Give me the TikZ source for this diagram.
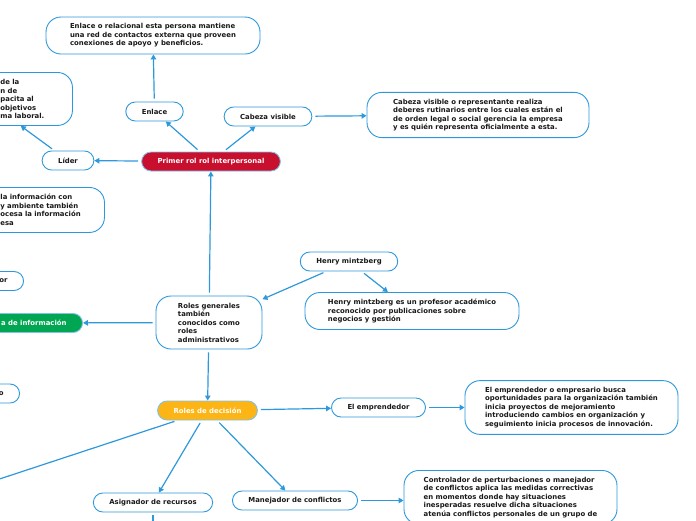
\documentclass[tikz,border=0pt]{standalone}
\usepackage{fontspec}
\setmainfont{DejaVu Sans}
\usetikzlibrary{arrows.meta}
\definecolor{LinkBlue}{RGB}{45,152,220}
\definecolor{Crimson}{RGB}{200,16,46}
\definecolor{Amber}{RGB}{252,181,20}
\definecolor{Forest}{RGB}{0,166,82}
\definecolor{InkDark}{RGB}{25,25,25}

\begin{document}
\begin{tikzpicture}[x=1pt, y=-1pt,
    every node/.style={font=\fontsize{6.9}{8.5}\selectfont\bfseries, text=InkDark},
    topic/.style={draw=LinkBlue, line width=0.9pt, rounded corners=9.5pt, fill=white, inner xsep=16pt, inner ysep=0pt, minimum height=19pt},
    note/.style={draw=LinkBlue, line width=0.9pt, rounded corners=15pt, fill=white, align=left, inner ysep=6.5pt},
    link/.style={draw=LinkBlue, line width=1.2pt, -{Triangle[length=5pt, width=5.5pt]}, shorten <=3pt}]
    \useasboundingbox (0,0) rectangle (696,520);
    \clip (0,0) rectangle (696,520);

    % primer rol interpersonal
    \node[note, minimum width=214pt, minimum height=37pt] (enlacetxt) at (153,35.5) {Enlace o relacional esta persona mantiene\\una red de contactos externa que proveen\\conexiones de apoyo y beneficios.};
    \node[topic] (enlace) at (154.5,111.5) {Enlace};
    \node[topic] (cabeza) at (268,116.5) {Cabeza visible};
    \node[note, minimum width=222pt, minimum height=44pt] (cabezatxt) at (478,115) {Cabeza visible o representante realiza\\deberes rutinarios entre los cuales están el\\de orden legal o social gerencia la empresa\\y es quién representa oficialmente a esta.};
    \node[topic] (lider) at (68,160.5) {Líder};
    \node[topic, fill=Crimson, draw=LinkBlue!60, text=white] (primer) at (211,161.5) {Primer rol rol interpersonal};
    \node[note, text width=52pt, inner xsep=20pt, anchor=north west, minimum height=53pt] (lidertxt) at (-20,72) {de la\\n de\\pacita al\\objetivos\\ma laboral.};

    % roles informativos (cortados)
    \node[note, text width=84pt, inner xsep=20pt, anchor=north west, minimum height=45pt] (infotxt) at (-20,187) {la información con\\y ambiente también\\ocesa la información\\esa};
    \node[topic, anchor=east] (infoa) at (24,281) {or};
    \node[topic, anchor=east, fill=Forest, draw=LinkBlue!60, text=white] (info) at (83,323) {a de información};
    \node[topic, anchor=east] (infob) at (20,393.5) {o};

    % centro
    \node[note, minimum width=106pt, minimum height=53pt] (roles) at (209,322.5) {Roles generales\\también\\conocidos como\\roles\\administrativos};
    \node[topic] (henry) at (349,261.5) {Henry mintzberg};
    \node[note, minimum width=214pt, minimum height=36pt] (henrytxt) at (412,311) {Henry mintzberg es un profesor académico\\reconocido por publicaciones sobre\\negocios y gestión};

    % roles de decision
    \node[topic, fill=Amber, draw=LinkBlue!60, text=white] (decision) at (207.5,410.5) {Roles de decisión};
    \node[topic] (empr) at (378.5,407.5) {El emprendedor};
    \node[note, minimum width=213pt, minimum height=53pt] (emprtxt) at (571.5,407.5) {El emprendedor o empresario busca\\oportunidades para la organización también\\inicia proyectos de mejoramiento\\introduciendo cambios en organización y\\seguimiento inicia procesos de innovación.};
    \node[topic] (asignador) at (153,502.5) {Asignador de recursos};
    \node[topic] (manejador) at (295,500.5) {Manejador de conflictos};
    \node[note, minimum width=213pt, anchor=north] (controltxt) at (510.5,470) {Controlador de perturbaciones o manejador\\de conflictos aplica las medidas correctivas\\en momentos donde hay situaciones\\inesperadas resuelve dicha situaciones\\atenúa conflictos personales de un grupo de};
    \coordinate (offleft) at (-40,492);
    \coordinate (offbelow) at (153,545);

    \draw[link] (enlace) -- (enlacetxt);
    \draw[link] (primer) -- (enlace);
    \draw[link] (primer) -- (cabeza);
    \draw[link] (cabeza) -- (cabezatxt);
    \draw[link] (primer) -- (lider);
    \draw[link] (lider) -- (lidertxt.258);
    \draw[link] (roles) -- (primer);
    \draw[link] (henry) -- (roles);
    \draw[link] (henry) -- (henrytxt);
    \draw[link] (roles) -- (info);
    \draw[link] (roles) -- (decision);
    \draw[link] (decision) -- (empr);
    \draw[link] (empr) -- (emprtxt);
    \draw[link] (decision) -- (offleft);
    \draw[link] (decision) -- (asignador);
    \draw[link] (decision) -- (manejador);
    \draw[link] (manejador) -- (manejador -| controltxt.west);
    \draw[link] (asignador) -- (offbelow);
\end{tikzpicture}
\end{document}
